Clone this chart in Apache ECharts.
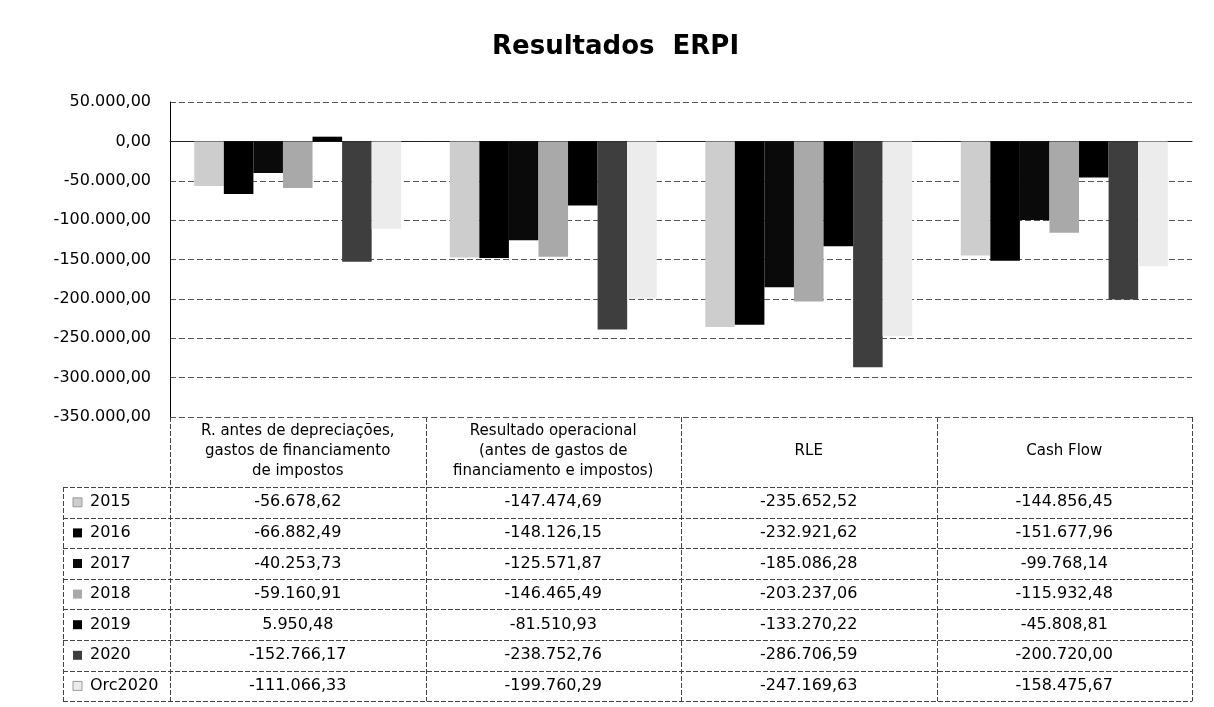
<!DOCTYPE html>
<html>
<head>
<meta charset="utf-8">
<script src="https://cdn.jsdelivr.net/npm/echarts@6/dist/echarts.min.js"></script>
<style>
  html, body { margin: 0; padding: 0; background: #fff; }
  #chart { width: 1214px; height: 707px; }
</style>
</head>
<body>
<div id="chart"></div>
<script>
// categories (table headers) and one array per year
var categories = [
  'R. antes de depreciações,\ngastos de financiamento\nde impostos',
  'Resultado operacional\n(antes de gastos de\nfinanciamento e impostos)',
  'RLE',
  'Cash Flow'
];
var years = ['2015', '2016', '2017', '2018', '2019', '2020', 'Orc2020'];
var v2015 = [-56678.62, -147474.69, -235652.52, -144856.45];
var v2016 = [-66882.49, -148126.15, -232921.62, -151677.96];
var v2017 = [-40253.73, -125571.87, -185086.28, -99768.14];
var v2018 = [-59160.91, -146465.49, -203237.06, -115932.48];
var v2019 = [5950.48, -81510.93, -133270.22, -45808.81];
var v2020 = [-152766.17, -238752.76, -286706.59, -200720.00];
var vOrc2020 = [-111066.33, -199760.29, -247169.63, -158475.67];
var yTicks = [50000, 0, -50000, -100000, -150000, -200000, -250000, -300000, -350000];

var values = [v2015, v2016, v2017, v2018, v2019, v2020, vOrc2020];
var colors = ['#cdcdcd', '#000000', '#0a0a0a', '#a9a9a9', '#000000', '#3e3e3e', '#ececec'];

function fmt(n) {
  var neg = n < 0;
  var s = Math.abs(n).toFixed(2).split('.');
  var ip = s[0].replace(/\B(?=(\d{3})+(?!\d))/g, '.');
  return (neg ? '-' : '') + ip + ',' + s[1];
}

var mychart = echarts.init(document.getElementById('chart'));

// layout of plot + data table
var L = 170, R = 1192, TOP = 102, BOT = 417;
var colW = (R - L) / categories.length;
var headBot = 487, rowH = 30.6, tblLeft = 63;
var tblBot = headBot + rowH * years.length;
var font = 'DejaVu Sans';
var lineCol = '#444';

var g = [];
categories.forEach(function (c, i) {
  g.push({
    type: 'text', x: L + colW * (i + 0.5), y: (BOT + headBot) / 2 - 1,
    style: { text: c, align: 'center', verticalAlign: 'middle', fontFamily: font, fontSize: 15, lineHeight: 20, fill: '#000' }
  });
});
years.forEach(function (y, r) {
  var cy = headBot + rowH * (r + 0.5);
  g.push({ type: 'rect', shape: { x: 73, y: cy - 4.5, width: 9, height: 9 }, style: { fill: colors[r], stroke: r === 6 || r === 0 ? '#999' : null } });
  g.push({ type: 'text', x: 90, y: cy, style: { text: y, align: 'left', verticalAlign: 'middle', fontFamily: font, fontSize: 16, fill: '#000' } });
  values[r].forEach(function (v, i) {
    g.push({
      type: 'text', x: L + colW * (i + 0.5), y: cy,
      style: { text: fmt(v), align: 'center', verticalAlign: 'middle', fontFamily: font, fontSize: 16, fill: '#000' }
    });
  });
});
// table lines
for (var k = 0; k <= years.length; k++) {
  var yy = Math.round(headBot + rowH * k) + 0.5;
  g.push({ type: 'line', shape: { x1: tblLeft, y1: yy, x2: R, y2: yy }, style: { stroke: lineCol, lineWidth: 1, lineDash: [5, 2] } });
}
for (var c = 0; c <= categories.length; c++) {
  var xx = Math.round(L + colW * c) + 0.5;
  g.push({ type: 'line', shape: { x1: xx, y1: BOT, x2: xx, y2: tblBot }, style: { stroke: lineCol, lineWidth: 1, lineDash: [5, 2] } });
}
g.push({ type: 'line', shape: { x1: tblLeft + 0.5, y1: headBot, x2: tblLeft + 0.5, y2: tblBot }, style: { stroke: lineCol, lineWidth: 1, lineDash: [5, 2] } });

var option = {
  animation: false,
  backgroundColor: '#fff',
  title: {
    text: 'Resultados  ERPI',
    left: 492, top: 34, padding: 0,
    textStyle: { fontFamily: font, fontWeight: 'bold', fontSize: 26, color: '#000' }
  },
  grid: { left: L, right: 1214 - R, top: TOP, bottom: 707 - BOT, containLabel: false },
  xAxis: {
    type: 'category',
    data: categories,
    axisLabel: { show: false },
    axisTick: { show: false },
    axisLine: { show: true, onZero: true, lineStyle: { color: '#222', width: 1 } }
  },
  yAxis: {
    type: 'value',
    min: yTicks[yTicks.length - 1],
    max: yTicks[0],
    interval: 50000,
    axisLine: { show: true, lineStyle: { color: '#000', width: 1 } },
    axisTick: { show: false },
    axisLabel: { margin: 19, fontFamily: font, fontSize: 16, color: '#000', formatter: fmt },
    splitLine: { show: true, lineStyle: { color: '#555', width: 1, type: [6, 3] } }
  },
  series: years.map(function (y, i) {
    return {
      name: y,
      type: 'bar',
      data: values[i],
      barGap: '0%',
      barCategoryGap: '19%',
      itemStyle: { color: colors[i] }
    };
  }),
  graphic: g
};
mychart.setOption(option);
</script>
</body>
</html>
